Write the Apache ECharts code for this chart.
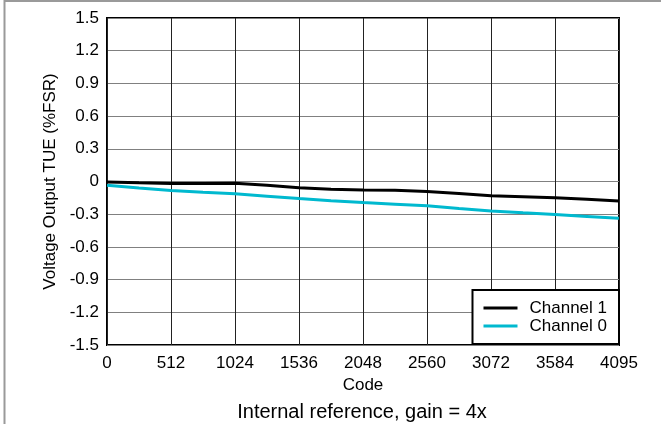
<!DOCTYPE html>
<html>
<head>
<meta charset="utf-8">
<script src="https://cdn.jsdelivr.net/npm/echarts@6/dist/echarts.min.js"></script>
<style>
html,body{margin:0;padding:0;background:#fff;}
#c{width:661px;height:424px;}
</style>
</head>
<body>
<div id="c"></div>
<script>
const codes = [0,256,512,768,1024,1280,1536,1792,2048,2304,2560,2816,3072,3328,3584,3840,4095];
const channel1 = [-0.005,-0.012,-0.018,-0.018,-0.017,-0.035,-0.058,-0.070,-0.078,-0.080,-0.092,-0.110,-0.130,-0.140,-0.150,-0.162,-0.178];
const channel0 = [-0.035,-0.060,-0.082,-0.098,-0.113,-0.135,-0.157,-0.176,-0.193,-0.208,-0.223,-0.248,-0.270,-0.287,-0.303,-0.320,-0.337];
const xTickLabels = ['0','512','1024','1536','2048','2560','3072','3584','4095'];
const xAxisTitle = 'Code';
const yAxisTitle = 'Voltage Output TUE (%FSR)';
const chartTitle = 'Internal reference, gain = 4x';

const font = 'Arial, "Liberation Sans", sans-serif';
const chart = echarts.init(document.getElementById('c'));
chart.setOption({
  animation: false,
  backgroundColor: '#fff',
  graphic: [{
    type: 'polyline', z: -1,
    shape: {points: [[4.5, 430], [4.5, 1], [661, 1]]},
    style: {stroke: '#9a9a9a', lineWidth: 2, fill: null}
  }],
  title: {
    text: chartTitle, left: 362, textAlign: 'center', top: 402, padding: 0,
    textStyle: {fontFamily: font, fontSize: 20, fontWeight: 'normal', color: '#000'}
  },
  grid: {
    left: 107, right: 42, top: 18, bottom: 79,
    show: true, borderColor: '#000', borderWidth: 2, backgroundColor: 'transparent'
  },
  legend: {
    orient: 'vertical', right: 42, bottom: 80,
    backgroundColor: '#fff', borderColor: '#000', borderWidth: 2,
    padding: [9, 12, 9, 11], itemGap: 0, itemWidth: 34, itemHeight: 3,
    icon: 'path://M0,0 L34,0 L34,3 L0,3 Z',
    textStyle: {fontFamily: font, fontSize: 17, lineHeight: 18, color: '#000', padding: [0, 0, 0, 7]},
    data: ['Channel 1', 'Channel 0']
  },
  xAxis: {
    type: 'value', min: 0, max: 4096, interval: 512,
    name: xAxisTitle, nameLocation: 'middle', nameGap: 28,
    nameTextStyle: {fontFamily: font, fontSize: 17, color: '#000'},
    axisLine: {show: false}, axisTick: {show: false},
    axisLabel: {
      fontFamily: font, fontSize: 17, color: '#000', margin: 10,
      formatter: (v) => xTickLabels[Math.round(v / 512)]
    },
    splitLine: {show: true, lineStyle: {color: '#222', width: 1}}
  },
  yAxis: {
    type: 'value', min: -1.5, max: 1.5, interval: 0.3,
    name: yAxisTitle, nameLocation: 'middle', nameGap: 48, nameRotate: 90,
    nameTextStyle: {fontFamily: font, fontSize: 17, color: '#000'},
    axisLine: {show: false}, axisTick: {show: false},
    axisLabel: {
      fontFamily: font, fontSize: 17, color: '#000', margin: 8,
      formatter: (v) => Math.abs(v) < 1e-9 ? '0' : v.toFixed(1)
    },
    splitLine: {show: true, lineStyle: {color: '#808080', width: 1}}
  },
  series: [
    {
      name: 'Channel 1', type: 'line', showSymbol: false, z: 3,
      data: codes.map((c, i) => [c, channel1[i]]),
      lineStyle: {color: '#000', width: 3}, itemStyle: {color: '#000'}
    },
    {
      name: 'Channel 0', type: 'line', showSymbol: false, z: 2,
      data: codes.map((c, i) => [c, channel0[i]]),
      lineStyle: {color: '#00b9cf', width: 3}, itemStyle: {color: '#00b9cf'}
    }
  ]
});
</script>
</body>
</html>
